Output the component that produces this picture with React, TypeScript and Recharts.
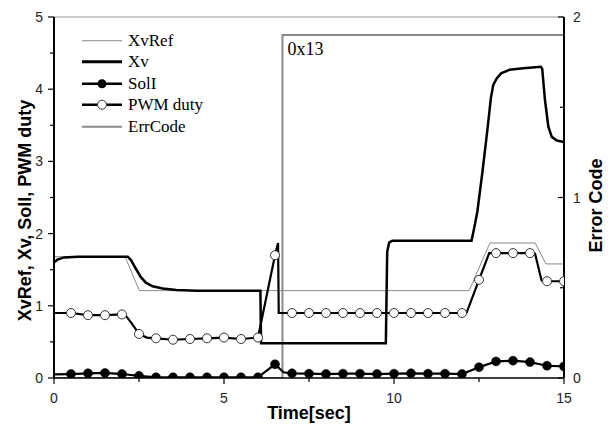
import React from 'react';
import { LineChart, Line, XAxis, YAxis, ReferenceLine, ReferenceDot, Legend } from 'recharts';

// ---------- data (time [sec], value) ----------
const xvRef: [number, number][] = [
  [0, 1.68], [2.09, 1.68], [2.51, 1.21], [12.21, 1.21], [12.82, 1.87], [14.15, 1.87], [14.47, 1.58], [15, 1.58],
];

const xv: [number, number][] = [
  [0, 1.6], [0.1, 1.64], [0.3, 1.67], [0.7, 1.68], [2.17, 1.68], [2.27, 1.63], [2.4, 1.52], [2.55, 1.4],
  [2.7, 1.32], [2.9, 1.27], [3.2, 1.24], [3.6, 1.22], [4.2, 1.21], [6.07, 1.21], [6.09, 0.48], [9.76, 0.48],
  [9.8, 1.75], [9.86, 1.88], [9.95, 1.9], [12.28, 1.9], [12.36, 2.08], [12.45, 2.3], [12.6, 2.85],
  [12.75, 3.45], [12.85, 3.88], [12.92, 4.06], [13.02, 4.15], [13.15, 4.22], [13.4, 4.27], [13.8, 4.29],
  [14.32, 4.31], [14.36, 4.28], [14.44, 3.85], [14.54, 3.48], [14.64, 3.34], [14.79, 3.29], [15, 3.27],
];

const solI: [number, number][] = [
  [0, 0.05], [0.5, 0.055], [1.0, 0.065], [1.5, 0.07], [2.0, 0.055], [2.5, 0.03], [3.0, 0.01], [3.5, 0.01],
  [4.0, 0.01], [4.5, 0.01], [5.0, 0.01], [5.5, 0.01], [6.0, 0.01], [6.5, 0.19], [6.75, 0.08], [7.0, 0.065],
  [7.5, 0.06], [8.0, 0.055], [8.5, 0.06], [9.0, 0.06], [9.5, 0.055], [10.0, 0.06], [10.5, 0.065], [11.0, 0.06],
  [11.5, 0.06], [12.0, 0.055], [12.5, 0.15], [13.0, 0.23], [13.5, 0.24], [14.0, 0.22], [14.5, 0.17], [15.0, 0.16],
];

const pwmDuty: [number, number][] = [
  [0, 0.9], [0.5, 0.9], [1.0, 0.87], [1.5, 0.87], [2.0, 0.88], [2.1, 0.87], [2.28, 0.76], [2.5, 0.61],
  [2.73, 0.56], [3.0, 0.55], [3.5, 0.53], [4.0, 0.54], [4.5, 0.55], [5.0, 0.56], [5.5, 0.54], [6.0, 0.56],
  [6.5, 1.7], [6.59, 1.87], [6.61, 0.9], [7.0, 0.9], [7.5, 0.9], [8.0, 0.9], [8.5, 0.9], [9.0, 0.9],
  [9.5, 0.9], [10.0, 0.9], [10.5, 0.9], [11.0, 0.9], [11.5, 0.9], [12.0, 0.9], [12.14, 0.91], [12.5, 1.36],
  [12.8, 1.73], [13.0, 1.73], [13.5, 1.73], [14.0, 1.73], [14.15, 1.72], [14.34, 1.35], [14.5, 1.34], [15.0, 1.34],
];

const errCode: [number, number][] = [
  [0, 0], [6.72, 0], [6.72, 1.9], [15, 1.9],
];
const errCodeText = '0x13';

const seriesNames = ['XvRef', 'Xv', 'SolI', 'PWM duty', 'ErrCode'];
const xTicks = [0, 2.5, 5, 7.5, 10, 12.5, 15];
const leftTicks = [0, 0.5, 1, 1.5, 2, 2.5, 3, 3.5, 4, 4.5, 5];
const rightTicks = [0, 0.5, 1, 1.5, 2];
const xLabel = 'Time[sec]';
const leftLabel = 'XvRef, Xv, SolI, PWM duty';
const rightLabel = 'Error Code';

const toRows = (arr: [number, number][]) => arr.map(([t, v]) => ({ t, v }));

// ---------- styling ----------
const SANS = '"Liberation Sans", Arial, sans-serif';
const SERIF = '"Liberation Serif", "Times New Roman", serif';
const GRAY = '#8a8a8a';
const TICK_COLOR = '#222';

const isMark = (t: number) => t > 0 && Math.abs(t * 2 - Math.round(t * 2)) < 1e-6;

const FilledDot = (p: any) =>
  isMark(p.payload.t) ? (
    <circle key={p.key} cx={p.cx} cy={p.cy} r={4.5} fill="#000" stroke="#000" strokeWidth={0.5} />
  ) : (
    <g key={p.key} />
  );

const OpenDot = (p: any) =>
  isMark(p.payload.t) ? (
    <circle key={p.key} cx={p.cx} cy={p.cy} r={4.5} fill="#fff" stroke="#333" strokeWidth={1} />
  ) : (
    <g key={p.key} />
  );

const LeftTick = (p: any) => {
  const v = p.payload.value;
  const major = Number.isInteger(v);
  return (
    <g>
      <line x1={p.x - (major ? 6 : 4)} x2={p.x} y1={p.y} y2={p.y} stroke="#000" strokeWidth={1.2} />
      {major && (
        <text x={p.x - 11} y={p.y + 5} textAnchor="end" fontSize={14} fontFamily={SANS} fill={TICK_COLOR}>
          {v}
        </text>
      )}
    </g>
  );
};

const RightTick = (p: any) => {
  const v = p.payload.value;
  const major = Number.isInteger(v);
  return (
    <g>
      <line x1={p.x - (major ? 6 : 4)} x2={p.x} y1={p.y} y2={p.y} stroke="#000" strokeWidth={1.2} />
      {major && (
        <text x={p.x + 9} y={p.y + 5} textAnchor="start" fontSize={14} fontFamily={SANS} fill={TICK_COLOR}>
          {v}
        </text>
      )}
    </g>
  );
};

const BottomTick = (p: any) => {
  const v = p.payload.value;
  const major = v % 5 === 0;
  return (
    <g>
      <line x1={p.x} x2={p.x} y1={p.y} y2={p.y + (major ? 6 : 4)} stroke="#000" strokeWidth={1.2} />
      {major && (
        <text x={p.x} y={p.y + 25} textAnchor="middle" fontSize={14} fontFamily={SANS} fill={TICK_COLOR}>
          {v}
        </text>
      )}
    </g>
  );
};

const LeftAxisLabel = (p: any) => {
  const vb = p.viewBox || {};
  const cx = vb.x + 31;
  const cy = vb.y + vb.height / 2 + 13;
  return (
    <text x={cx} y={cy} transform={`rotate(-90, ${cx}, ${cy})`} textAnchor="middle" fontSize={18}
      fontWeight="bold" fontFamily={SANS} fill="#000">
      {leftLabel}
    </text>
  );
};

const RightAxisLabel = (p: any) => {
  const vb = p.viewBox || {};
  const cx = vb.x + 38;
  const cy = vb.y + vb.height / 2 + 8;
  return (
    <text x={cx} y={cy} transform={`rotate(-90, ${cx}, ${cy})`} textAnchor="middle" fontSize={18}
      fontWeight="bold" fontFamily={SANS} fill="#000">
      {rightLabel}
    </text>
  );
};

const BottomAxisLabel = (p: any) => {
  const vb = p.viewBox || {};
  return (
    <text x={vb.x + vb.width / 2} y={vb.y + 41} textAnchor="middle" fontSize={18} fontWeight="bold"
      fontFamily={SANS} fill="#000">
      {xLabel}
    </text>
  );
};

const ErrLabel = (p: any) => {
  const vb = p.viewBox || {};
  const x = (vb.x ?? 0) + (vb.width ?? 0) / 2;
  const y = (vb.y ?? 0) + (vb.height ?? 0) / 2;
  return (
    <text x={x + 5} y={y + 20} fontSize={18} fontFamily={SERIF} fill="#000">
      {errCodeText}
    </text>
  );
};

const legendIcons: Record<string, React.ReactNode> = {
  XvRef: <line x1={0} x2={40} y1={10.7} y2={10.7} stroke={GRAY} strokeWidth={1} />,
  Xv: <line x1={0} x2={40} y1={10.7} y2={10.7} stroke="#000" strokeWidth={3} />,
  SolI: (
    <g>
      <line x1={0} x2={40} y1={10.7} y2={10.7} stroke="#000" strokeWidth={2.5} />
      <circle cx={20} cy={10.7} r={4.5} fill="#000" />
    </g>
  ),
  'PWM duty': (
    <g>
      <line x1={0} x2={40} y1={10.7} y2={10.7} stroke="#000" strokeWidth={2.5} />
      <circle cx={20} cy={10.7} r={4.5} fill="#fff" stroke="#333" strokeWidth={1} />
    </g>
  ),
  ErrCode: <line x1={0} x2={40} y1={10.7} y2={10.7} stroke={GRAY} strokeWidth={2} />,
};

const renderLegend = () => (
  <div style={{ fontFamily: SERIF, fontSize: 17, color: '#000' }}>
    {seriesNames.map((name) => (
      <div key={name} style={{ display: 'flex', alignItems: 'center', height: 21.4 }}>
        <svg width={46} height={21.4} style={{ display: 'block' }}>
          {legendIcons[name]}
        </svg>
        <span style={{ lineHeight: '21.4px', whiteSpace: 'nowrap' }}>{name}</span>
      </div>
    ))}
  </div>
);

export default function App() {
  return (
    <div style={{ position: 'absolute', left: 0, top: 0, width: 608, height: 431, background: '#fff' }}>
      <LineChart width={608} height={431} margin={{ top: 17, right: 0, bottom: 0, left: 0 }}>
        <XAxis
          dataKey="t"
          type="number"
          domain={[0, 15]}
          ticks={xTicks}
          interval={0}
          height={53}
          allowDataOverflow
          tickLine={false}
          tickSize={0}
          tickMargin={0}
          tick={BottomTick}
          axisLine={{ stroke: '#000', strokeWidth: 1.5 }}
          label={<BottomAxisLabel />}
        />
        <YAxis
          yAxisId="L"
          type="number"
          domain={[0, 5]}
          ticks={leftTicks}
          interval={0}
          width={54}
          allowDataOverflow
          tickLine={false}
          tickSize={0}
          tickMargin={0}
          tick={LeftTick}
          axisLine={{ stroke: '#000', strokeWidth: 2 }}
          label={<LeftAxisLabel />}
        />
        <YAxis
          yAxisId="R"
          orientation="right"
          type="number"
          domain={[0, 2]}
          ticks={rightTicks}
          interval={0}
          width={44}
          allowDataOverflow
          tickLine={false}
          tickSize={0}
          tickMargin={0}
          tick={RightTick}
          axisLine={{ stroke: '#000', strokeWidth: 2 }}
          label={<RightAxisLabel />}
        />
        <ReferenceLine yAxisId="L" y={5} stroke="#999" strokeWidth={1} />
        <Legend
          layout="horizontal"
          align="center"
          verticalAlign="middle"
          content={renderLegend}
          wrapperStyle={{ position: 'absolute', left: 82, top: 30, width: 160, height: 110 }}
        />
        <Line yAxisId="R" data={toRows(errCode)} dataKey="v" name="ErrCode" type="linear" stroke={GRAY}
          strokeWidth={2} dot={false} activeDot={false} isAnimationActive={false} />
        <Line yAxisId="L" data={toRows(xvRef)} dataKey="v" name="XvRef" type="linear" stroke={GRAY}
          strokeWidth={1} dot={false} activeDot={false} isAnimationActive={false} />
        <Line yAxisId="L" data={toRows(xv)} dataKey="v" name="Xv" type="linear" stroke="#000"
          strokeWidth={2.5} dot={false} activeDot={false} isAnimationActive={false} />
        <Line yAxisId="L" data={toRows(pwmDuty)} dataKey="v" name="PWM duty" type="linear" stroke="#000"
          strokeWidth={2.2} dot={OpenDot} activeDot={false} isAnimationActive={false} />
        <Line yAxisId="L" data={toRows(solI)} dataKey="v" name="SolI" type="linear" stroke="#000"
          strokeWidth={2.2} dot={FilledDot} activeDot={false} isAnimationActive={false} />
        <ReferenceDot yAxisId="R" x={errCode[2][0]} y={errCode[2][1]} r={0} stroke="none" fill="none"
          label={<ErrLabel />} />
      </LineChart>
    </div>
  );
}
